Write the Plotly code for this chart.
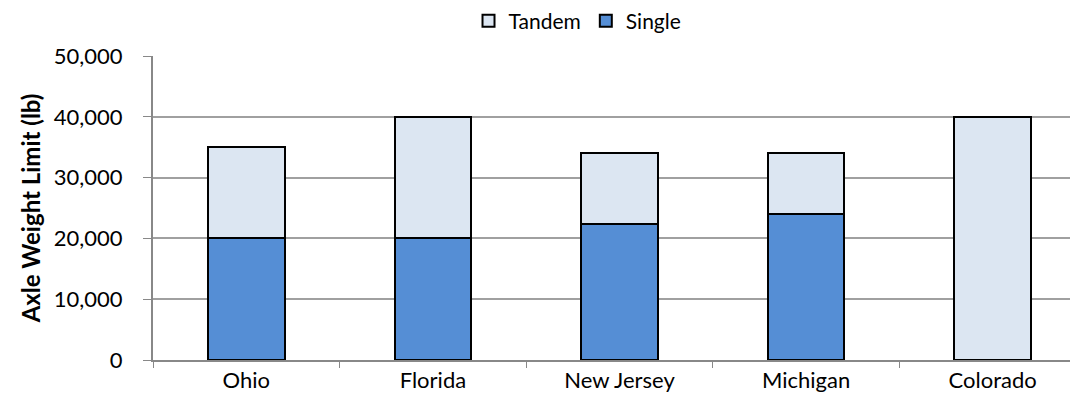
import plotly.graph_objects as go

states = ["Ohio", "Florida", "New Jersey", "Michigan", "Colorado"]
single = [20000, 20000, 22400, 24000, 0]
tandem_extra = [15000, 20000, 11600, 10000, 40000]
y_ticks = [0, 10000, 20000, 30000, 40000, 50000]

fig = go.Figure()
fig.add_trace(go.Bar(x=states, y=single, name="Single",
                     marker=dict(color="#558ED5", line=dict(color="#000000", width=2))))
fig.add_trace(go.Bar(x=states, y=tandem_extra, name="Tandem",
                     marker=dict(color="#DCE6F2", line=dict(color="#000000", width=2))))

font = "Lato, 'Open Sans', sans-serif"
fig.update_layout(
    width=1078, height=400,
    barmode="stack", bargap=0.59,
    plot_bgcolor="white", paper_bgcolor="white",
    margin=dict(l=145, r=0, t=48, b=48, autoexpand=False),
    font=dict(family=font, size=22, color="#000000"),
    legend=dict(orientation="h", x=0.455, xanchor="center", y=1.115, yanchor="middle",
                traceorder="reversed", font=dict(size=21), itemwidth=30,
                bgcolor="rgba(0,0,0,0)"),
    xaxis=dict(showline=True, linecolor="#888888", linewidth=2,
               ticks="outside", tickson="boundaries", ticklen=6, tickcolor="#888888",
               tickfont=dict(size=22)),
    yaxis=dict(range=[0, 50000], tickvals=y_ticks, tickformat=",d",
               showgrid=True, gridcolor="#A0A0A0", gridwidth=1.5,
               showline=True, linecolor="#888888", linewidth=2,
               ticks="outside", ticklen=8, tickcolor="#888888",
               ticklabelstandoff=16,
               tickfont=dict(size=22), zeroline=False,
               title=dict(text="<b>Axle Weight Limit (lb)</b>", font=dict(size=24), standoff=6)),
)
fig.write_html("out.html")
